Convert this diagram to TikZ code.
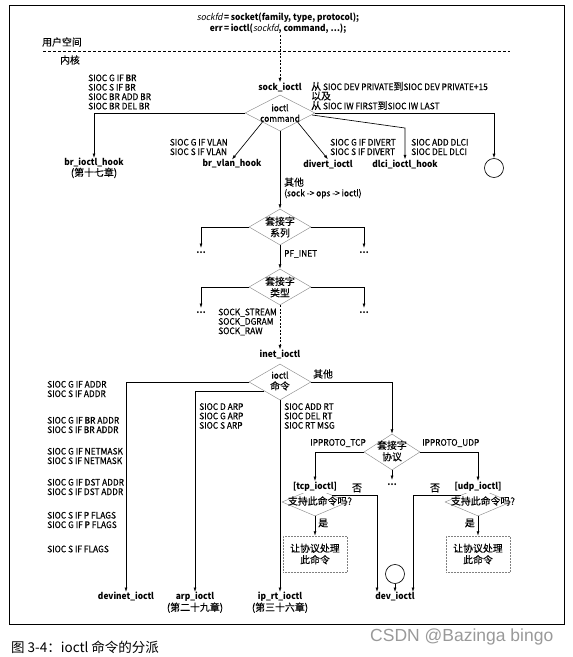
\documentclass[tikz,border=0pt]{standalone}
\usepackage{fontspec}
\setmainfont{Noto Sans CJK SC}[FakeStretch=0.93, UprightFeatures={FakeBold=0.35}]
\newfontfamily\cjk{Noto Sans CJK SC}[Scale=1.1, FakeBold=0.3]
\newfontfamily\slfont{Noto Sans CJK SC}[FakeSlant=0.2, FakeStretch=0.93]
\newfontfamily\capfont{Noto Sans CJK SC}
\newfontfamily\wmfont{Liberation Sans}
\usetikzlibrary{arrows.meta,shapes.geometric,calc}
\begin{document}
\begin{tikzpicture}[x=1pt,y=-1pt,
  every node/.style={font=\fontsize{9}{9.4}\selectfont, inner sep=0pt},
  bld/.style={font=\fontsize{9}{9.4}\selectfont\bfseries},
  cjkt/.style={font=\fontsize{9}{11.5}\selectfont\cjk, align=center},
  dia/.style={draw=black!45, line width=0.45pt, shape=diamond, inner sep=0pt},
  arr/.style={line width=0.65pt, -{Latex[length=4.5pt,width=3pt]}},
  pbox/.style={draw=black!50, densely dotted, line width=0.5pt, minimum width=64pt, minimum height=36pt},
  conn/.style={circle, draw, line width=0.65pt, minimum size=19pt},
  dts/.style={font=\fontsize{9}{9}\selectfont\bfseries, text height=5pt, anchor=north},
]
\useasboundingbox (0,0) rectangle (573,657);
\draw[line width=0.8pt] (9,5) rectangle (564,624);

% top code
\node[font=\fontsize{9}{11}\selectfont\bfseries] (code) at (278,24)
  {\begin{tabular}{@{}r@{}l@{}}{\slfont\mdseries sockfd}\,=\,&socket(family, type, protocol);\\
   err\,=\,&ioctl({\slfont\mdseries sockfd}, command, \ldots);\end{tabular}};
\node (user) at (62,42) {\cjk 用户空间};
\draw[dashed, line width=0.8pt, dash pattern=on 3pt off 2pt] (43,51) -- (510,51);
\node (kern) at (70,60) {\cjk 内核};

\node[bld] (sock) at (280,87) {sock\_ioctl};
\draw[arr, dashed, dash pattern=on 2pt off 1.5pt] (sock.north |- code.south) -- (sock.north);

\node[anchor=west, align=left] (brl) at (88,92) {SIOC G IF BR\\SIOC S IF BR\\SIOC BR ADD BR\\SIOC BR DEL BR};
\node[anchor=west, align=left, font=\fontsize{9}{9.6}\selectfont] (rng) at (311,96) {{\cjk 从} SIOC DEV PRIVATE{\cjk 到}SIOC DEV PRIVATE+15\\{\cjk 以及}\\{\cjk 从} SIOC IW FIRST{\cjk 到}SIOC IW LAST};

% diamond 1
\node[dia, minimum width=70pt, minimum height=36pt] (d1) at (280,113) {};
\node[align=center, font=\fontsize{9}{10.5}\selectfont] (d1t) at (280,113) {ioctl\\command};

\node[align=center, anchor=north, font=\fontsize{9}{10.5}\selectfont] (brh) at (94,158) {\textbf{br\_ioctl\_hook}\\{\cjk (第十七章)}};
\draw[arr] (d1.west) -| (brh.north);

\node[bld] (bvh) at (232,164) {br\_vlan\_hook};
\draw[arr] (d1.south west) -- (bvh.north);
\node[anchor=east, align=left] (vlanl) at (228,147) {SIOC G IF VLAN\\SIOC S IF VLAN};

\node[bld] (dvi) at (328,164) {divert\_ioctl};
\draw[arr] (d1.south east) -- (dvi.north);
\node[anchor=west, align=left] (divl) at (330,147) {SIOC G IF DIVERT\\SIOC S IF DIVERT};

\node[bld] (dlh) at (405,164) {dlci\_ioctl\_hook};
\coordinate (b1) at (405,128);
\draw[arr] ([shift={(-3,2)}]d1.east) -- (b1) -- (dlh.north);
\node[anchor=west, align=left] (dlcil) at (411,147) {SIOC ADD DLCI\\SIOC DEL DLCI};

\node[conn] (c1) at (494,168) {};
\draw[arr] (d1.east) -| (c1.north);

\node[anchor=west, align=left, font=\fontsize{9}{10.5}\selectfont] (oth1) at (284,188) {{\cjk 其他}\\(sock -> ops -> ioctl)};

% diamond 2
\node[dia, minimum width=62pt, minimum height=36pt] (d2) at (280,227) {};
\node[cjkt] (d2t) at (280,227) {套接字\\系列};
\draw[arr] (d1.south) -- (d2.north);
\node[dts] (dl2) at (201,248) {\ldots};
\node[dts] (dr2) at (364,248) {\ldots};
\draw[arr] (d2.west) -| (dl2.north);
\draw[arr] (d2.east) -| (dr2.north);
\node[anchor=west] (pf) at (284,254) {PF\_INET};

% diamond 3
\node[dia, minimum width=62pt, minimum height=36pt] (d3) at (280,287) {};
\node[cjkt] (d3t) at (280,287) {套接字\\类型};
\draw[arr] (d2.south) -- (d3.north);
\node[dts] (dl3) at (201,308) {\ldots};
\node[dts] (dr3) at (364,308) {\ldots};
\draw[arr] (d3.west) -| (dl3.north);
\draw[arr] (d3.east) -| (dr3.north);
\node[anchor=east, align=left] (sockl) at (277,322) {SOCK\_STREAM\\SOCK\_DGRAM\\SOCK\_RAW};

\node[bld] (inet) at (280,354) {inet\_ioctl};
\draw[arr, dashed, dash pattern=on 2pt off 1.5pt] (d3.south) -- (inet.north);

% diamond 4
\node[dia, minimum width=62pt, minimum height=36pt] (d4) at (280,382) {};
\node[align=center, font=\fontsize{9}{11}\selectfont] (d4t) at (280,381) {ioctl\\{\cjk 命令}};
\node[anchor=west] (oth2) at (313,374) {\cjk 其他};

% bottom targets
\node[bld, anchor=north] (devinet) at (126,592) {devinet\_ioctl};
\node[anchor=north, align=center, font=\fontsize{9}{10}\selectfont] (arp) at (195,592) {\textbf{arp\_ioctl}\\{\cjk (第二十九章)}};
\node[anchor=north, align=center, font=\fontsize{9}{10}\selectfont] (iprt) at (280,592) {\textbf{ip\_rt\_ioctl}\\{\cjk (第三十六章)}};
\node[bld, anchor=north] (dev) at (395,592) {dev\_ioctl};

\draw[arr] (d4.west) -| (devinet.north);
\draw[arr] (d4.south west) -| (arp.north);
\draw[arr] (d4.south) -- (iprt.north);

\node[anchor=north west, align=left] (rtl) at (284,403) {SIOC ADD RT\\SIOC DEL RT\\SIOC RT MSG};
\node[anchor=north west, align=left] (arpl) at (199,403) {SIOC D ARP\\SIOC G ARP\\SIOC S ARP};
\node[anchor=west, align=left] (g1) at (47,389) {SIOC G IF ADDR\\SIOC S IF ADDR};
\node[anchor=west, align=left] (g2) at (47,425) {SIOC G IF BR ADDR\\SIOC S IF BR ADDR};
\node[anchor=west, align=left] (g3) at (47,456) {SIOC G IF NETMASK\\SIOC S IF NETMASK};
\node[anchor=west, align=left] (g4) at (47,487) {SIOC G IF DST ADDR\\SIOC S IF DST ADDR};
\node[anchor=west, align=left] (g5) at (47,520) {SIOC S IF P FLAGS\\SIOC G IF P FLAGS};
\node[anchor=west] (g6) at (47,549) {SIOC S IF FLAGS};

% diamond 5
\node[dia, minimum width=56pt, minimum height=36pt] (d5) at (392,452) {};
\node[cjkt] (d5t) at (392,451) {套接字\\协议};
\draw[arr] (d4.east) -| (d5.north);
\node[anchor=east] (tcpp) at (366,443) {IPPROTO\_TCP};
\node[anchor=west] (udpp) at (422,443) {IPPROTO\_UDP};
\node[dts] (dt5) at (392,480) {\ldots};
\draw[arr] (d5.south) -- (dt5.north);

% tcp
\node[dia, minimum width=66pt, minimum height=28pt] (dt) at (315,502) {};
\node[bld, fill=white, inner sep=1pt] (tcpl) at (315,487) {[tcp\_ioctl]};
\node (q1) at (320,501) {\cjk 支持此命令吗?};
\draw[arr] (d5.west) -| (tcpl.north);
\node (no1) at (357,488) {\cjk 否};
\draw[arr] (dt.north east) -| ([xshift=-18pt]dev.north);
\node[pbox, cjkt] (box1) at (315,554) {让协议处理\\此命令};
\draw[arr] (dt.south) -- (box1.north);
\node[anchor=west] (yes1) at (318,523) {\cjk 是};

% udp
\node[dia, minimum width=66pt, minimum height=28pt] (du) at (478,502) {};
\node[bld, fill=white, inner sep=1pt] (udpl) at (478,487) {[udp\_ioctl]};
\node (q2) at (483,501) {\cjk 支持此命令吗?};
\draw[arr] (d5.east) -| (udpl.north);
\node (no2) at (435,488) {\cjk 否};
\draw[arr] (du.north west) -| ([xshift=18pt]dev.north);
\node[pbox, cjkt] (box2) at (478,554) {让协议处理\\此命令};
\draw[arr] (du.south) -- (box2.north);
\node[anchor=east] (yes2) at (475,523) {\cjk 是};

\node[conn] (c2) at (395,574) {};
\draw[arr] (c2.south) -- (dev.north);

% caption and watermark
\node[anchor=west, font=\fontsize{13.5}{15}\selectfont\capfont] (cap) at (11,647) {图 3-4：ioctl 命令的分派};
\node[anchor=west, font=\fontsize{17.5}{18}\selectfont\wmfont, text=black!40] (wm) at (370,637) {CSDN @Bazinga bingo};
\end{tikzpicture}
\end{document}
